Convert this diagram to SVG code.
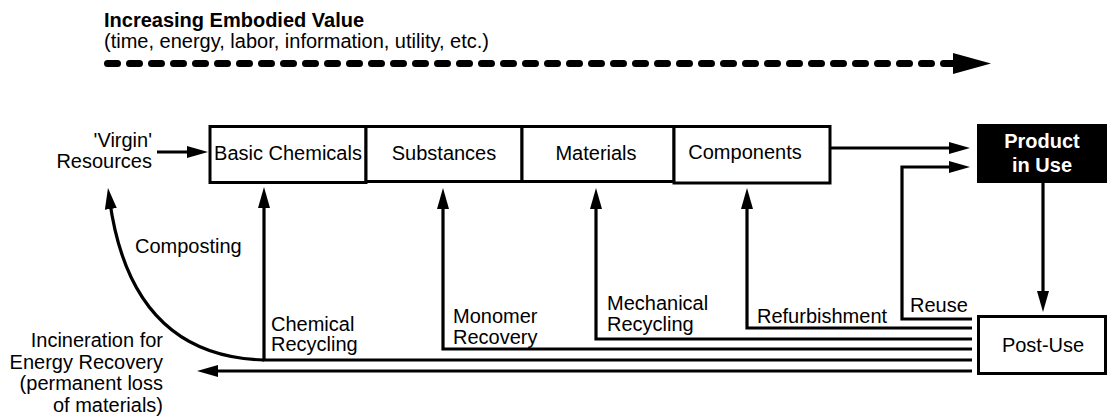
<svg xmlns="http://www.w3.org/2000/svg" width="1108" height="417" viewBox="0 0 1108 417">
  <style>
    text { font-family: "Liberation Sans", Arial, sans-serif; font-size: 20px; fill: #000; }
    .title { font-weight: bold; }
    .box { fill: #fff; stroke: #000; stroke-width: 3; }
    .dark { fill: #000; stroke: #000; stroke-width: 2; }
    .inv { fill: #fff; font-weight: bold; text-anchor: middle; }
    .mid { text-anchor: middle; }
    .end { text-anchor: end; }
    .flow { fill: none; stroke: #000; stroke-width: 3.2; marker-end: url(#ah); }
    .flow-plain { fill: none; stroke: #000; stroke-width: 3.2; }
  </style>
  <defs>
    <marker id="ah" markerUnits="userSpaceOnUse" markerWidth="22" markerHeight="14" viewBox="0 0 22 14" refX="9" refY="7" orient="auto">
      <path d="M0,1 L21,7 L0,13 z" fill="#000"/>
    </marker>
    <marker id="bigah" markerUnits="userSpaceOnUse" markerWidth="40" markerHeight="22" viewBox="0 0 40 22" refX="2" refY="11" orient="auto">
      <path d="M0,0.5 L38,11 L0,21.5 z" fill="#000"/>
    </marker>
  </defs>

  <!-- value scale across the top -->
  <g id="value-scale">
    <text class="title" x="104" y="27">Increasing Embodied Value</text>
    <text x="104" y="48">(time, energy, labor, information, utility, etc.)</text>
    <path d="M107.5,63.5 H955" fill="none" stroke="#000" stroke-width="7" stroke-linecap="round" stroke-dasharray="10 12" marker-end="url(#bigah)"/>
  </g>

  <g id="virgin-resources">
    <text class="end" x="152" y="147">'Virgin'</text>
    <text class="end" x="152" y="168">Resources</text>
  </g>

  <g id="basic-chemicals">
    <rect class="box" x="210" y="126.5" width="156" height="56" stroke-width="3.5"/>
    <text class="mid" x="288" y="160">Basic Chemicals</text>
  </g>
  <g id="substances">
    <rect class="box" x="366" y="126.5" width="156" height="55"/>
    <text class="mid" x="444" y="160">Substances</text>
  </g>
  <g id="materials">
    <rect class="box" x="522" y="126.5" width="152" height="55"/>
    <text class="mid" x="596" y="160">Materials</text>
  </g>
  <g id="components">
    <rect class="box" x="674" y="126.5" width="156" height="56.5"/>
    <text class="mid" x="745" y="159">Components</text>
  </g>

  <g id="product-in-use">
    <rect class="dark" x="978" y="125" width="128" height="57"/>
    <text class="inv" x="1042" y="148">Product</text>
    <text class="inv" x="1042" y="172">in Use</text>
  </g>

  <g id="post-use">
    <rect class="box" x="978.5" y="316.5" width="127" height="57"/>
    <text class="mid" x="1043" y="352">Post-Use</text>
  </g>

  <g id="connectors">
    <path class="flow" d="M157,152 H196"/>
    <path class="flow" d="M830,148 H958"/>
    <path class="flow" d="M1043,183 V300"/>
    <path class="flow" d="M972,319 H902 V167 H958"/>
    <path class="flow" d="M972,328 H747 V200"/>
    <path class="flow" d="M972,339 H596 V200"/>
    <path class="flow" d="M972,349 H443 V200"/>
    <path class="flow" d="M972,360 H264 V199"/>
    <path class="flow" d="M264,360 C190,358 126,320 109.6,200"/>
    <path class="flow" d="M972,371 H209"/>
  </g>

  <g id="labels">
    <text x="135" y="253">Composting</text>
    <text x="271" y="331">Chemical</text>
    <text x="271" y="351">Recycling</text>
    <text x="453" y="323">Monomer</text>
    <text x="453" y="344">Recovery</text>
    <text x="607" y="310">Mechanical</text>
    <text x="607" y="331">Recycling</text>
    <text x="757" y="323">Refurbishment</text>
    <text x="910" y="312">Reuse</text>
    <text class="end" x="163" y="347">Incineration for</text>
    <text class="end" x="163" y="369">Energy Recovery</text>
    <text class="end" x="163" y="390">(permanent loss</text>
    <text class="end" x="163" y="412">of materials)</text>
  </g>
</svg>
